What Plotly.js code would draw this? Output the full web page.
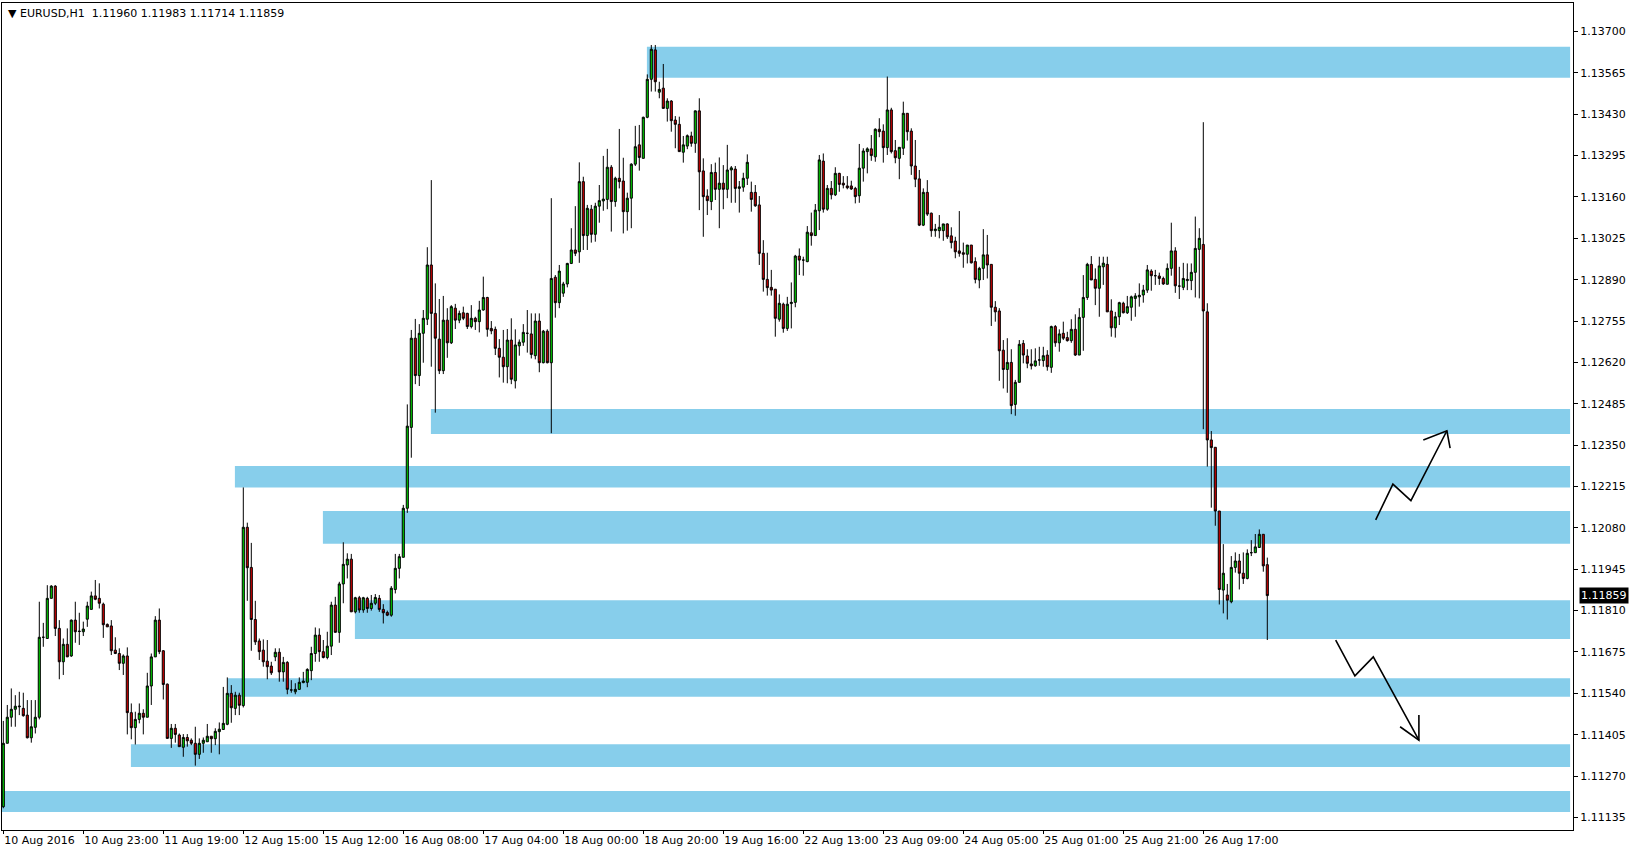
<!DOCTYPE html>
<html>
<head>
<meta charset="utf-8">
<script src="https://cdn.plot.ly/plotly-3.0.1.min.js"></script>
<style>html,body{margin:0;padding:0;background:#fff;}#chart{width:1634px;height:852px;}</style>
</head>
<body>
<div id="chart"></div>
<script>
// ---- EURUSD H1 candles (bar index 0 .. 316) ----
const openPrices = [
1.11170,1.11377,1.11462,1.11488,1.11496,1.11491,1.11469,1.11395,1.11429,1.11462,
1.11723,1.11719,1.11850,1.11890,1.11752,1.11643,1.11700,1.11662,1.11779,1.11743,
1.11741,1.11782,1.11814,1.11858,1.11850,1.11831,1.11765,1.11760,1.11681,1.11670,
1.11638,1.11662,1.11477,1.11428,1.11455,1.11475,1.11462,1.11564,1.11659,1.11779,
1.11679,1.11570,1.11393,1.11426,1.11404,1.11364,1.11396,1.11387,1.11377,1.11341,
1.11377,1.11382,1.11400,1.11392,1.11415,1.11422,1.11439,1.11540,1.11491,1.11534,
1.11500,1.12082,1.11951,1.11781,1.11711,1.11681,1.11645,1.11629,1.11659,1.11674,
1.11610,1.11641,1.11551,1.11545,1.11553,1.11575,1.11576,1.11614,1.11670,1.11730,
1.11676,1.11657,1.11694,1.11828,1.11739,1.11897,1.11959,1.11978,1.11806,1.11852,
1.11812,1.11850,1.11817,1.11834,1.11850,1.11814,1.11804,1.11795,1.11879,1.11948,
1.11984,1.12144,1.12408,1.12699,1.12577,1.12715,1.12761,1.12938,1.12780,1.12696,
1.12593,1.12758,1.12684,1.12797,1.12758,1.12782,1.12780,1.12737,1.12764,1.12753,
1.12791,1.12832,1.12731,1.12728,1.12666,1.12637,1.12606,1.12693,1.12560,1.12674,
1.12686,1.12715,1.12713,1.12642,1.12755,1.12619,1.12722,1.12619,1.12898,1.12815,
1.12846,1.12876,1.12943,1.12987,1.12981,1.13210,1.13034,1.13120,1.13038,1.13130,
1.13147,1.13152,1.13257,1.13145,1.13221,1.13212,1.13112,1.13156,1.13267,1.13330,
1.13286,1.13420,1.13544,1.13640,1.13502,1.13515,1.13449,1.13473,1.13411,1.13397,
1.13306,1.13326,1.13359,1.13335,1.13441,1.13245,1.13163,1.13145,1.13240,1.13185,
1.13205,1.13185,1.13248,1.13251,1.13188,1.13192,1.13221,1.13175,1.13175,1.13134,
1.12976,1.12891,1.12865,1.12859,1.12761,1.12810,1.12731,1.12812,1.12816,1.12967,
1.12954,1.12949,1.13043,1.13034,1.13115,1.13277,1.13120,1.13188,1.13167,1.13237,
1.13205,1.13196,1.13196,1.13188,1.13164,1.13254,1.13308,1.13317,1.13291,1.13381,
1.13375,1.13321,1.13444,1.13311,1.13286,1.13319,1.13433,1.13375,1.13261,1.13219,
1.13068,1.13175,1.13107,1.13050,1.13050,1.13050,1.13072,1.13033,1.13016,1.12984,
1.12978,1.12973,1.13003,1.12949,1.12889,1.12927,1.12971,1.12940,1.12800,1.12788,
1.12660,1.12597,1.12620,1.12483,1.12555,1.12682,1.12641,1.12615,1.12609,1.12628,
1.12626,1.12644,1.12604,1.12737,1.12684,1.12715,1.12701,1.12691,1.12728,1.12644,
1.12767,1.12832,1.12940,1.12891,1.12862,1.12932,1.12940,1.12788,1.12733,1.12769,
1.12813,1.12782,1.12800,1.12829,1.12834,1.12840,1.12856,1.12918,1.12903,1.12902,
1.12894,1.12875,1.12927,1.12984,1.12869,1.12865,1.12887,1.12887,1.12914,1.12989,
1.13005,1.12785,1.12367,1.12343,1.12135,1.11877,1.11861,1.11839,1.11951,1.11972,
1.11932,1.11915,1.11999,1.11999,1.12016,1.12059,1.11960
];
const highPrices = [
1.11450,1.11502,1.11556,1.11534,1.11545,1.11542,1.11518,1.11518,1.11518,1.11839,
1.11770,1.11893,1.11893,1.11893,1.11779,1.11719,1.11752,1.11781,1.11839,1.11803,
1.11774,1.11839,1.11872,1.11910,1.11899,1.11836,1.11768,1.11779,1.11723,1.11687,
1.11667,1.11690,1.11507,1.11480,1.11507,1.11488,1.11607,1.11670,1.11792,1.11817,
1.11681,1.11572,1.11440,1.11440,1.11409,1.11407,1.11407,1.11393,1.11431,1.11393,
1.11396,1.11440,1.11400,1.11426,1.11445,1.11561,1.11592,1.11567,1.11545,1.11542,
1.12212,1.12097,1.12031,1.11842,1.11719,1.11716,1.11714,1.11643,1.11687,1.11687,
1.11659,1.11645,1.11583,1.11573,1.11592,1.11610,1.11622,1.11692,1.11755,1.11752,
1.11714,1.11741,1.11839,1.11855,1.11904,1.12033,1.11997,1.11995,1.11855,1.11858,
1.11855,1.11855,1.11861,1.11864,1.11861,1.11831,1.11810,1.11890,1.11995,1.11995,
1.12155,1.12483,1.12726,1.12762,1.12745,1.12791,1.12996,1.13215,1.12878,1.12827,
1.12837,1.12797,1.12807,1.12811,1.12789,1.12802,1.12782,1.12807,1.12769,1.12821,
1.12900,1.12834,1.12755,1.12737,1.12696,1.12726,1.12729,1.12764,1.12728,1.12695,
1.12745,1.12791,1.12780,1.12780,1.12780,1.12726,1.12728,1.13156,1.12905,1.12938,
1.12883,1.12945,1.13058,1.13130,1.13273,1.13226,1.13134,1.13134,1.13141,1.13199,
1.13294,1.13317,1.13264,1.13226,1.13382,1.13288,1.13174,1.13270,1.13392,1.13395,
1.13422,1.13560,1.13656,1.13656,1.13536,1.13594,1.13482,1.13476,1.13424,1.13422,
1.13359,1.13364,1.13373,1.13442,1.13482,1.13286,1.13185,1.13267,1.13272,1.13289,
1.13264,1.13330,1.13261,1.13261,1.13212,1.13239,1.13299,1.13210,1.13199,1.13163,
1.13019,1.12978,1.12922,1.12859,1.12842,1.12815,1.12834,1.12881,1.12971,1.12992,
1.12965,1.13065,1.13109,1.13137,1.13297,1.13302,1.13199,1.13212,1.13257,1.13239,
1.13228,1.13228,1.13213,1.13193,1.13333,1.13319,1.13322,1.13362,1.13384,1.13417,
1.13397,1.13553,1.13451,1.13346,1.13322,1.13471,1.13433,1.13384,1.13346,1.13248,
1.13188,1.13215,1.13109,1.13072,1.13101,1.13072,1.13074,1.13061,1.13030,1.13114,
1.13011,1.13003,1.13003,1.12963,1.12932,1.13055,1.13036,1.12940,1.12820,1.12797,
1.12693,1.12699,1.12663,1.12563,1.12693,1.12693,1.12663,1.12663,1.12666,1.12671,
1.12671,1.12660,1.12740,1.12742,1.12728,1.12753,1.12720,1.12761,1.12777,1.12797,
1.12905,1.12945,1.12967,1.12927,1.12965,1.12965,1.12965,1.12826,1.12785,1.12818,
1.12818,1.12837,1.12838,1.12846,1.12878,1.12873,1.12938,1.12924,1.12922,1.12913,
1.12900,1.12943,1.13076,1.12996,1.12932,1.12945,1.12943,1.12943,1.13096,1.13058,
1.13404,1.12813,1.12396,1.12343,1.12135,1.12027,1.11897,1.11988,1.12000,1.11995,
1.12000,1.12010,1.12040,1.12060,1.12075,1.12059,1.11983
];
const lowPrices = [
1.11165,1.11377,1.11431,1.11431,1.11469,1.11464,1.11393,1.11379,1.11409,1.11455,
1.11692,1.11719,1.11850,1.11727,1.11586,1.11600,1.11659,1.11659,1.11705,1.11698,
1.11727,1.11757,1.11814,1.11844,1.11817,1.11721,1.11757,1.11665,1.11668,1.11616,
1.11600,1.11406,1.11390,1.11373,1.11442,1.11406,1.11462,1.11502,1.11659,1.11668,
1.11520,1.11393,1.11362,1.11379,1.11366,1.11333,1.11366,1.11371,1.11304,1.11326,
1.11346,1.11382,1.11346,1.11371,1.11341,1.11422,1.11436,1.11444,1.11469,1.11469,
1.11494,1.11842,1.11679,1.11698,1.11649,1.11627,1.11586,1.11600,1.11645,1.11578,
1.11578,1.11537,1.11542,1.11537,1.11551,1.11573,1.11560,1.11583,1.11643,1.11643,
1.11654,1.11651,1.11665,1.11739,1.11705,1.11834,1.11915,1.11806,1.11801,1.11803,
1.11803,1.11803,1.11810,1.11828,1.11806,1.11768,1.11792,1.11790,1.11866,1.11915,
1.11984,1.12129,1.12309,1.12549,1.12543,1.12619,1.12742,1.12606,1.12456,1.12582,
1.12582,1.12635,1.12680,1.12729,1.12748,1.12758,1.12729,1.12731,1.12726,1.12718,
1.12789,1.12704,1.12712,1.12644,1.12571,1.12554,1.12552,1.12549,1.12535,1.12642,
1.12674,1.12652,1.12633,1.12630,1.12588,1.12617,1.12617,1.12389,1.12766,1.12797,
1.12834,1.12865,1.12941,1.12967,1.12945,1.12987,1.12987,1.13011,1.13014,1.13076,
1.13115,1.13120,1.13047,1.13128,1.13188,1.13041,1.13050,1.13058,1.13261,1.13246,
1.13286,1.13417,1.13504,1.13504,1.13482,1.13449,1.13406,1.13373,1.13319,1.13308,
1.13272,1.13316,1.13324,1.13304,1.13117,1.13030,1.13101,1.13117,1.13150,1.13058,
1.13120,1.13156,1.13141,1.13141,1.13109,1.13177,1.13199,1.13112,1.13128,1.12938,
1.12851,1.12838,1.12838,1.12704,1.12753,1.12717,1.12723,1.12731,1.12800,1.12905,
1.12903,1.12947,1.13001,1.13034,1.13052,1.13109,1.13115,1.13152,1.13163,1.13177,
1.13188,1.13185,1.13183,1.13139,1.13141,1.13210,1.13237,1.13278,1.13275,1.13355,
1.13272,1.13297,1.13302,1.13270,1.13218,1.13297,1.13344,1.13232,1.13192,1.13065,
1.13065,1.13098,1.13030,1.13030,1.13025,1.13017,1.13023,1.12992,1.12960,1.12965,
1.12929,1.12943,1.12943,1.12878,1.12862,1.12889,1.12894,1.12739,1.12753,1.12560,
1.12535,1.12521,1.12451,1.12446,1.12555,1.12617,1.12601,1.12597,1.12606,1.12609,
1.12606,1.12593,1.12586,1.12671,1.12655,1.12693,1.12688,1.12684,1.12641,1.12644,
1.12658,1.12824,1.12889,1.12807,1.12769,1.12873,1.12785,1.12704,1.12701,1.12742,
1.12780,1.12778,1.12756,1.12769,1.12802,1.12815,1.12847,1.12854,1.12873,1.12873,
1.12873,1.12875,1.12903,1.12847,1.12827,1.12856,1.12856,1.12856,1.12832,1.12829,
1.12402,1.12280,1.12146,1.12087,1.11830,1.11801,1.11781,1.11834,1.11934,1.11879,
1.11897,1.11912,1.11988,1.11999,1.12016,1.11937,1.11714
];
const closePrices = [
1.11377,1.11462,1.11488,1.11498,1.11498,1.11467,1.11395,1.11431,1.11462,1.11723,
1.11723,1.11850,1.11890,1.11752,1.11643,1.11700,1.11659,1.11779,1.11741,1.11742,
1.11750,1.11825,1.11858,1.11847,1.11834,1.11764,1.11757,1.11679,1.11670,1.11638,
1.11662,1.11477,1.11428,1.11455,1.11475,1.11462,1.11564,1.11659,1.11779,1.11676,
1.11569,1.11393,1.11426,1.11406,1.11366,1.11396,1.11385,1.11377,1.11341,1.11377,
1.11387,1.11400,1.11392,1.11416,1.11423,1.11442,1.11540,1.11493,1.11534,1.11501,
1.12082,1.11950,1.11781,1.11708,1.11676,1.11643,1.11627,1.11607,1.11674,1.11610,
1.11641,1.11553,1.11551,1.11553,1.11576,1.11580,1.11618,1.11670,1.11730,1.11676,
1.11657,1.11694,1.11828,1.11739,1.11897,1.11961,1.11978,1.11806,1.11852,1.11812,
1.11852,1.11817,1.11834,1.11853,1.11814,1.11803,1.11795,1.11883,1.11948,1.11986,
1.12144,1.12412,1.12699,1.12577,1.12715,1.12764,1.12938,1.12780,1.12699,1.12593,
1.12758,1.12684,1.12802,1.12758,1.12780,1.12764,1.12737,1.12764,1.12753,1.12791,
1.12832,1.12728,1.12723,1.12666,1.12637,1.12606,1.12693,1.12565,1.12677,1.12686,
1.12718,1.12715,1.12646,1.12755,1.12619,1.12722,1.12619,1.12894,1.12815,1.12918,
1.12876,1.12943,1.12987,1.12976,1.13210,1.13034,1.13123,1.13038,1.13130,1.13148,
1.13153,1.13257,1.13145,1.13221,1.13210,1.13112,1.13156,1.13267,1.13324,1.13289,
1.13420,1.13544,1.13642,1.13536,1.13511,1.13449,1.13473,1.13409,1.13397,1.13308,
1.13330,1.13360,1.13335,1.13441,1.13242,1.13161,1.13148,1.13240,1.13185,1.13205,
1.13185,1.13248,1.13255,1.13188,1.13193,1.13221,1.13273,1.13152,1.13131,1.12976,
1.12891,1.12864,1.12856,1.12764,1.12813,1.12731,1.12810,1.12816,1.12967,1.12954,
1.12954,1.13045,1.13034,1.13117,1.13281,1.13120,1.13188,1.13167,1.13237,1.13201,
1.13199,1.13190,1.13186,1.13161,1.13254,1.13310,1.13317,1.13295,1.13381,1.13373,
1.13321,1.13444,1.13308,1.13288,1.13322,1.13433,1.13373,1.13261,1.13218,1.13068,
1.13175,1.13104,1.13050,1.13055,1.13061,1.13072,1.13030,1.13011,1.12981,1.12976,
1.12973,1.13003,1.12945,1.12891,1.12927,1.12971,1.12938,1.12800,1.12785,1.12658,
1.12597,1.12620,1.12479,1.12555,1.12679,1.12644,1.12617,1.12609,1.12625,1.12628,
1.12642,1.12606,1.12737,1.12684,1.12713,1.12699,1.12691,1.12728,1.12644,1.12767,
1.12832,1.12940,1.12889,1.12862,1.12935,1.12944,1.12785,1.12733,1.12769,1.12815,
1.12782,1.12802,1.12834,1.12837,1.12839,1.12856,1.12922,1.12903,1.12903,1.12894,
1.12876,1.12927,1.12984,1.12870,1.12869,1.12894,1.12891,1.12914,1.12992,1.13025,
1.12788,1.12367,1.12342,1.12135,1.11879,1.11932,1.11844,1.11951,1.11972,1.11932,
1.11915,1.11997,1.11999,1.12018,1.12059,1.11956,1.11859
];

// ---- axis ticks ----
const timeTickBars = [0,20,40,60,80,100,120,140,160,180,200,220,240,260,280,300];
const timeTickLabels = ["10 Aug 2016","10 Aug 23:00","11 Aug 19:00","12 Aug 15:00","15 Aug 12:00",
  "16 Aug 08:00","17 Aug 04:00","18 Aug 00:00","18 Aug 20:00","19 Aug 16:00","22 Aug 13:00",
  "23 Aug 09:00","24 Aug 05:00","25 Aug 01:00","25 Aug 21:00","26 Aug 17:00"];
const priceTickLabels = ["1.11135","1.11270","1.11405","1.11540","1.11675","1.11810","1.11945",
  "1.12080","1.12215","1.12350","1.12485","1.12620","1.12755","1.12890","1.13025","1.13160",
  "1.13295","1.13430","1.13565","1.13700"];

// ---- support / resistance zones (start bar, top price, bottom price) ----
const zoneStartBar = [160.9, 106.9, 57.9, 79.9, 87.9, 56.1, 31.9, -0.4];
const zoneTop      = [1.13650, 1.12468, 1.12282, 1.12135, 1.11844, 1.11589, 1.11374, 1.11221];
const zoneBottom   = [1.13549, 1.12386, 1.12212, 1.12028, 1.11717, 1.11529, 1.11300, 1.11153];
const zoneEndBar = 391.7;

// ---- hand-drawn scenario arrows ([bar, price] points) ----
const upArrowPath   = [[343.1,1.12106],[347.4,1.12223],[351.9,1.12169],[360.9,1.12397]];
const upArrowHead   = [[355.0,1.12367],[360.9,1.12397],[361.7,1.12340]];
const downArrowPath = [[333.1,1.11714],[337.9,1.11597],[342.5,1.11659],[353.9,1.11387]];
const downArrowHead = [[349.2,1.11431],[353.9,1.11387],[353.9,1.11469]];

const lastPrice = 1.11859;
const headerText = "\u25BC EURUSD,H1\u00a0\u00a01.11960 1.11983 1.11714 1.11859";

// ---- build ----
const barIndex = openPrices.map((_, i) => i);
const priceTickVals = priceTickLabels.map(Number);

const candles = {
  type: 'candlestick',
  x: barIndex,
  open: openPrices, high: highPrices, low: lowPrices, close: closePrices,
  increasing: {line: {color: '#000000', width: 1}, fillcolor: '#00d000'},
  decreasing: {line: {color: '#000000', width: 1}, fillcolor: '#d00000'},
  whiskerwidth: 0,
  hoverinfo: 'skip'
};

const toPath = pts => pts.map((p, i) => (i ? 'L' : 'M') + p[0] + ',' + p[1]).join(' ');

const shapes = zoneStartBar.map((x0, i) => ({
  type: 'rect', xref: 'x', yref: 'y', layer: 'below',
  x0: x0, x1: zoneEndBar, y0: zoneBottom[i], y1: zoneTop[i],
  fillcolor: '#87ceeb', line: {width: 0}
}));
[upArrowPath, upArrowHead, downArrowPath, downArrowHead].forEach(pts => {
  shapes.push({type: 'path', xref: 'x', yref: 'y', path: toPath(pts),
    line: {color: '#000000', width: 1.6}});
});

const tickFont = {family: 'DejaVu Sans, Verdana, sans-serif', size: 11, color: '#000000'};

const layout = {
  width: 1634, height: 852,
  margin: {l: 2, r: 61, t: 3, b: 22, pad: 0},
  paper_bgcolor: '#ffffff', plot_bgcolor: '#ffffff',
  showlegend: false,
  dragmode: false,
  boxgap: 0.25,
  xaxis: {
    range: [-0.325, 392.425], rangeslider: {visible: false},
    showgrid: false, zeroline: false, showline: true, mirror: true,
    linecolor: '#000000', linewidth: 1,
    tickmode: 'array', tickvals: timeTickBars, ticktext: timeTickLabels,
    ticks: 'outside', ticklen: 3, tickcolor: '#000000', tickwidth: 1,
    tickangle: 0, automargin: false,
    ticklabelposition: 'outside right',
    tickfont: tickFont, fixedrange: true
  },
  yaxis: {
    range: [1.11094, 1.13793], side: 'right',
    showgrid: false, zeroline: false, showline: true, mirror: true,
    linecolor: '#000000', linewidth: 1,
    tickmode: 'array', tickvals: priceTickVals, ticktext: priceTickLabels,
    ticks: 'outside', ticklen: 4, tickcolor: '#000000', tickwidth: 1,
    automargin: false,
    tickfont: tickFont, fixedrange: true
  },
  shapes: shapes,
  annotations: [
    {xref: 'paper', yref: 'y', x: 1, y: lastPrice, xanchor: 'left', yanchor: 'middle',
     xshift: 6, text: lastPrice.toFixed(5), showarrow: false,
     bgcolor: '#000000', borderpad: 1,
     font: {family: 'DejaVu Sans, Verdana, sans-serif', size: 11, color: '#ffffff'}},
    {xref: 'paper', yref: 'paper', x: 0, y: 1, xanchor: 'left', yanchor: 'top',
     xshift: 4, yshift: -2, text: headerText, showarrow: false,
     font: {family: 'DejaVu Sans, Verdana, sans-serif', size: 11, color: '#000000'}}
  ]
};

Plotly.newPlot('chart', [candles], layout, {displayModeBar: false, staticPlot: true});
</script>
</body>
</html>
